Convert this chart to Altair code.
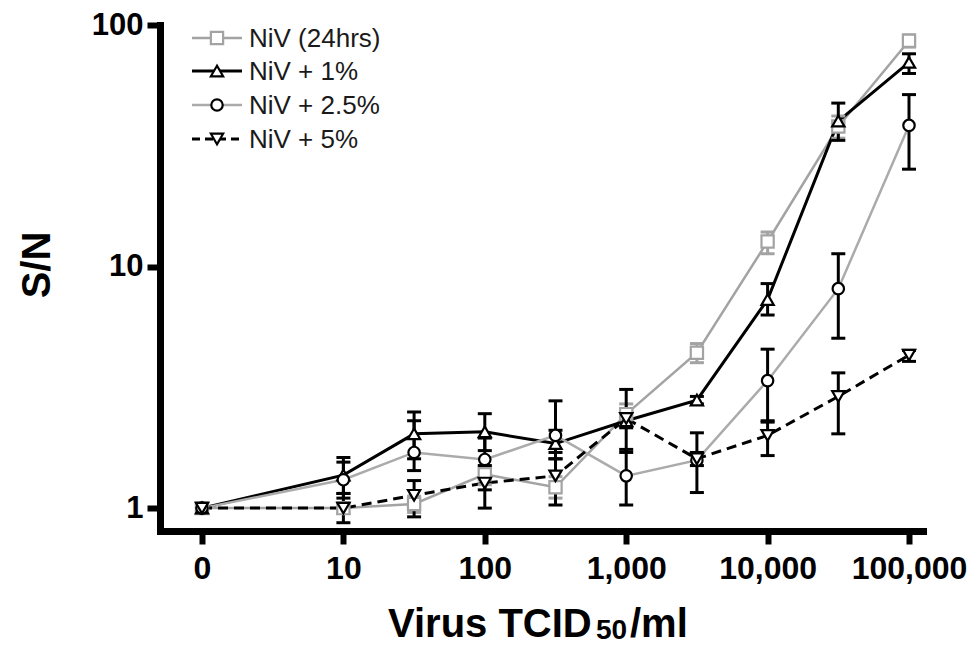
import altair as alt
import pandas as pd

# ---------------- data ----------------
series_names = ["NiV (24hrs)", "NiV + 1%", "NiV + 2.5%", "NiV + 5%"]
# x position = log10(TCID50/ml); the "0" dose sits at position 0
x_pos = [0, 1, 1.5, 2, 2.5, 3, 3.5, 4, 4.5, 5]
x_tick_values = [0, 1, 2, 3, 4, 5]
x_tick_labels = ["0", "10", "100", "1,000", "10,000", "100,000"]
y_tick_values = [1, 10, 100]

sn_24h = [1.0, 1.0, 1.04, 1.38, 1.22, 2.45, 4.4, 12.7, 38.0, 86.0]
lo_24h = [1.0, 0.95, 0.96, 1.25, 1.1, 2.2, 4.0, 11.3, 34.0, 81.0]
hi_24h = [1.0, 1.05, 1.12, 1.5, 1.35, 2.7, 4.8, 13.9, 42.0, 91.0]

sn_1 = [1.0, 1.37, 2.03, 2.07, 1.85, 2.3, 2.8, 7.3, 40.0, 70.0]
lo_1 = [1.0, 1.15, 1.6, 1.73, 1.6, 2.15, 2.7, 6.3, 33.3, 63.0]
hi_1 = [1.0, 1.62, 2.5, 2.46, 2.1, 2.5, 2.9, 8.5, 47.5, 76.0]

sn_25 = [1.0, 1.31, 1.70, 1.59, 2.0, 1.36, 1.58, 3.37, 8.1, 38.4]
lo_25 = [1.0, 1.1, 1.43, 1.19, 1.6, 1.03, 1.5, 2.27, 5.05, 25.3]
hi_25 = [1.0, 1.55, 2.3, 1.95, 2.78, 1.75, 1.7, 4.55, 11.3, 51.5]

sn_5 = [1.0, 1.0, 1.13, 1.27, 1.36, 2.35, 1.6, 2.0, 2.9, 4.3]
lo_5 = [1.0, 0.87, 0.92, 1.0, 1.03, 1.7, 1.16, 1.65, 2.03, 4.05]
hi_5 = [1.0, 1.15, 1.3, 1.5, 1.7, 3.1, 2.05, 2.3, 3.63, 4.5]

values = [sn_24h, sn_1, sn_25, sn_5]
lows = [lo_24h, lo_1, lo_25, lo_5]
highs = [hi_24h, hi_1, hi_25, hi_5]

# ---------------- styles ----------------
GRAY = "#a3a3a3"
line_colors = [GRAY, "#000000", "#ababab", "#000000"]
marker_colors = [GRAY, "#000000", "#000000", "#000000"]
err_colors = [GRAY, "#000000", "#000000", "#000000"]
shapes = ["square", "triangle-up", "circle", "triangle-down"]
marker_sizes = [150, 150, 130, 150]
line_widths = [2.5, 3, 2.5, 3]
FONT = "Liberation Sans"

W, H = 763, 506

label_expr = "[" + ",".join("'%s'" % s for s in x_tick_labels) + "][datum.value]"

common_axis = dict(
    domainWidth=7, domainColor="black", domainCap="square",
    tickWidth=6, tickSize=13, tickColor="black",
    labelFont=FONT, labelFontWeight="bold",
    labelColor="black", grid=False, title=None,
)
xaxis = alt.Axis(values=x_tick_values, labelExpr=label_expr, labelPadding=9,
                 labelFontSize=32, **common_axis)
yaxis = alt.Axis(values=y_tick_values, format="d", labelPadding=4,
                 labelFontSize=31, **common_axis)

xscale = alt.Scale(domain=[-0.297, 5.099], nice=False, zero=False)
yscale = alt.Scale(type="log", domain=[0.804, 100], nice=False)


def X(field):
    return alt.X(field, type="quantitative", scale=xscale, axis=xaxis)


def Y(field):
    return alt.Y(field, type="quantitative", scale=yscale, axis=yaxis)


frames = []
for i, name in enumerate(series_names):
    frames.append(pd.DataFrame({
        "series": name, "x": x_pos, "y": values[i], "lo": lows[i], "hi": highs[i]
    }))
df = pd.concat(frames, ignore_index=True)

line_layers, err_layers, point_layers = [], [], []
for i, name in enumerate(series_names):
    base = alt.Chart(df).transform_filter(alt.datum.series == name)
    lkw = dict(color=line_colors[i], strokeWidth=line_widths[i])
    if i == 3:
        lkw["strokeDash"] = [10, 6]
    line_layers.append(base.mark_line(**lkw).encode(x=X("x"), y=Y("y")))
    err_layers.append(base.mark_rule(color=err_colors[i], strokeWidth=3).encode(
        x=X("x"), y=Y("lo"), y2="hi"))
    for f in ("lo", "hi"):
        err_layers.append(base.mark_rule(color=err_colors[i], strokeWidth=3,
                                         xOffset=-7, x2Offset=7).encode(
            x=X("x"), x2="x", y=Y(f)))
    point_layers.append(base.mark_point(
        shape=shapes[i], size=marker_sizes[i], filled=False, fill="white",
        fillOpacity=1, stroke=marker_colors[i], strokeWidth=2.2, opacity=1
    ).encode(x=X("x"), y=Y("y")))

# ---------------- legend (drawn inside plot, top-left) ----------------
leg_layers = []
row_y = [13, 46, 80, 114]
anchor = alt.Chart(pd.DataFrame({"a": [0]}))
for i, name in enumerate(series_names):
    rkw = dict(color=line_colors[i], strokeWidth=line_widths[i])
    if i == 3:
        rkw["strokeDash"] = [8, 5]
    leg_layers.append(anchor.mark_rule(**rkw).encode(
        x=alt.value(32), x2=alt.value(82), y=alt.value(row_y[i])))
    leg_layers.append(anchor.mark_point(
        shape=shapes[i], size=marker_sizes[i], filled=False, fill="white",
        fillOpacity=1, stroke=marker_colors[i], strokeWidth=2.2, opacity=1
    ).encode(x=alt.value(57), y=alt.value(row_y[i])))
    leg_layers.append(anchor.mark_text(
        align="left", baseline="middle", font=FONT, fontSize=26, color="#1a1a1a"
    ).encode(x=alt.value(89), y=alt.value(row_y[i] + 1), text=alt.value(name)))

# ---------------- axis titles ----------------
title_layers = [
    anchor.mark_text(align="left", baseline="alphabetic", font=FONT, fontSize=40,
                     fontWeight="bold", color="black").encode(
        x=alt.value(228), y=alt.value(612), text=alt.value("Virus TCID")),
    anchor.mark_text(align="left", baseline="alphabetic", font=FONT, fontSize=28,
                     fontWeight="bold", color="black").encode(
        x=alt.value(436), y=alt.value(614), text=alt.value("50")),
    anchor.mark_text(align="left", baseline="alphabetic", font=FONT, fontSize=40,
                     fontWeight="bold", color="black").encode(
        x=alt.value(470), y=alt.value(612), text=alt.value("/ml")),
    anchor.mark_text(align="center", baseline="middle", font=FONT, fontSize=40,
                     fontWeight="bold", color="black", angle=270).encode(
        x=alt.value(-122), y=alt.value(240), text=alt.value("S/N")),
]

chart = alt.layer(*line_layers, *err_layers, *point_layers, *leg_layers, *title_layers).properties(
    width=W, height=H,
    autosize=alt.AutoSizeParams(type="none"),
    padding={"left": 152, "top": 17, "right": 47, "bottom": 115},
    background="white",
).configure_view(stroke=None)

chart.save("out.html", embed_options={"renderer": "svg", "actions": False})
